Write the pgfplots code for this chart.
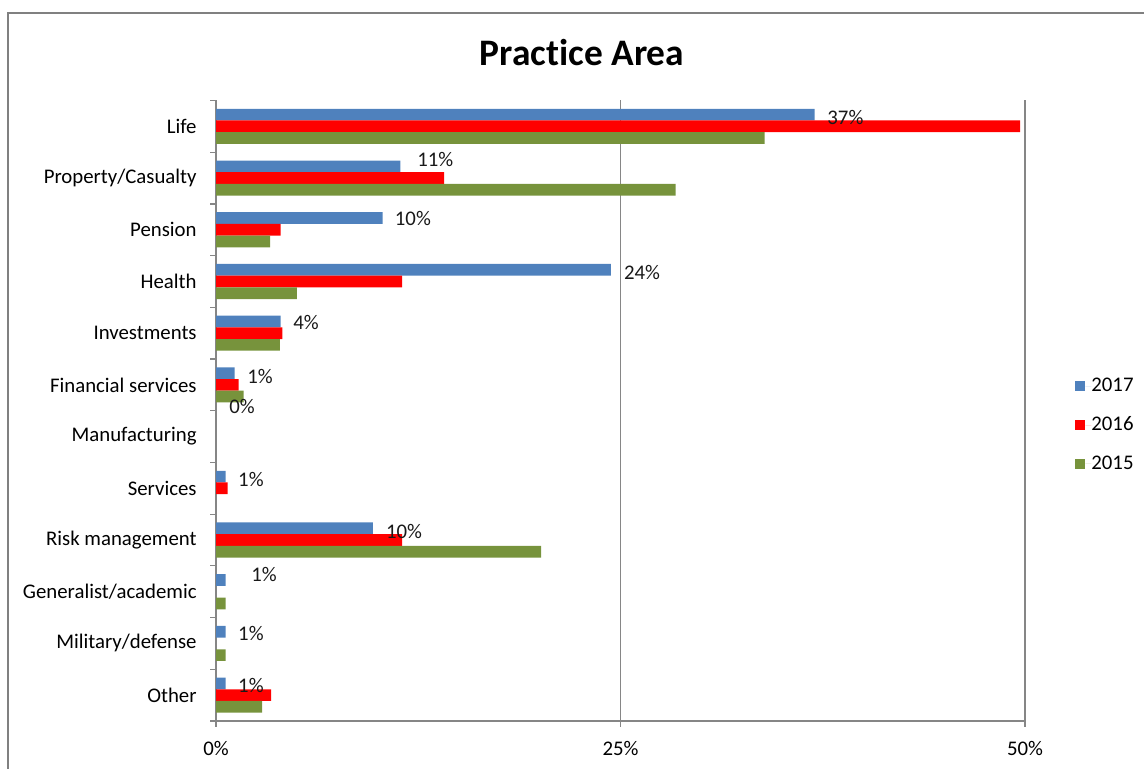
\documentclass[border=0pt]{standalone}
\usepackage{fontspec}
\setmainfont{Carlito}[Ligatures={NoCommon,NoContextual}]
\usepackage{pgfplots}
\usepackage{pgfplotstable}
\pgfplotsset{compat=1.18}
\definecolor{c17}{HTML}{4F81BD}
\definecolor{c16}{HTML}{FF0000}
\definecolor{c15}{HTML}{77933C}
\definecolor{axgray}{HTML}{868686}
\definecolor{framegray}{HTML}{808080}

\pgfplotstableread{
y v17 v16 v15
11 37.0 49.7 33.9
10 11.4 14.1 28.4
9 10.3 4.0 3.35
8 24.4 11.5 5.0
7 4.0 4.1 3.95
6 1.15 1.4 1.7
5 0 0 0
4 0.6 0.72 0
3 9.7 11.5 20.1
2 0.6 0 0.6
1 0.6 0 0.6
0 0.6 3.4 2.85
}\datatable

\pgfplotstableread{
x y label
38.9 11.18 37
13.55 10.35 11
12.17 9.21 10
26.33 8.18 24
5.56 7.20 4
2.72 6.17 1
1.61 5.59 0
2.16 4.18 1
11.62 3.17 10
2.97 2.34 1
2.16 1.20 1
2.16 0.18 1
}\labeltable

\begin{document}
\begin{tikzpicture}[x=1pt,y=1pt]
\useasboundingbox (0,0) rectangle (572,384.5);
\draw[framegray, line width=1pt] (4,0) -- (4,378) -- (572,378);
\node[font=\fontsize{18.7}{22}\selectfont\bfseries] at (291,358) {Pract\kern0pt ice Area};
\begin{axis}[
  at={(108pt,24pt)}, anchor=south west, scale only axis,
  width=404.5pt, height=310.25pt,
  bar width=5.85pt,
  xmin=0, xmax=50, ymin=-0.5, ymax=11.5,
  axis lines*=left,
  axis line style={axgray, line width=0.6pt},
  xtick={0,25,50}, xticklabels={0\%,25\%,50\%},
  ytick={-0.5,0.5,...,11.5}, yticklabels={},
  extra y ticks={0,1,2,3,4,5,6,7,8,9,10,11},
  extra y tick labels={Other,Military/defense,Generalist/academic,Risk management,Services,Manufacturing,Financial services,Investments,Health,Pension,Property/Casualty,Life},
  extra y tick style={major tick length=0pt, tick style={draw=none}, yticklabel style={inner sep=0pt, xshift=-9.5pt}},
  tick align=outside,
  major tick length=3pt,
  tick style={axgray, line width=0.6pt},
  xmajorgrids, major grid style={axgray, line width=0.6pt},
  tick label style={font=\fontsize{10.4}{12}\selectfont, text=black},
  xticklabel style={inner sep=0pt, yshift=-7pt},
  legend style={draw=none, fill=none, inner sep=0pt, outer sep=0pt,
    at={(1.0618,0.477)}, anchor=west, row sep=11pt,
    font=\fontsize{10.4}{12}\selectfont,
    nodes={inner sep=0pt}},
  legend cell align=left,
  legend image code/.code={\fill[#1] (0pt,-2.6pt) rectangle (5.2pt,2.6pt); \path (5.2pt,0) -- (8.2pt,0);},
]
\addplot[xbar, fill=c17, draw=none, bar shift=5.85pt, x filter/.expression={x==0 ? nan : x}] table[x=v17,y=y]{\datatable};
\addlegendentry{2017}
\addplot[xbar, fill=c16, draw=none, bar shift=0pt, x filter/.expression={x==0 ? nan : x}] table[x=v16,y=y]{\datatable};
\addlegendentry{2016}
\addplot[xbar, fill=c15, draw=none, bar shift=-5.85pt, x filter/.expression={x==0 ? nan : x}] table[x=v15,y=y]{\datatable};
\addlegendentry{2015}
\addplot[draw=none, mark=none, forget plot, nodes near coords={\pgfplotspointmeta\%}, point meta=explicit symbolic,
  nodes near coords style={anchor=center, inner sep=0pt, font=\fontsize{10.4}{12}\selectfont, text=black!90}]
  table[x=x,y=y,meta=label]{\labeltable};
\end{axis}
\end{tikzpicture}
\end{document}
